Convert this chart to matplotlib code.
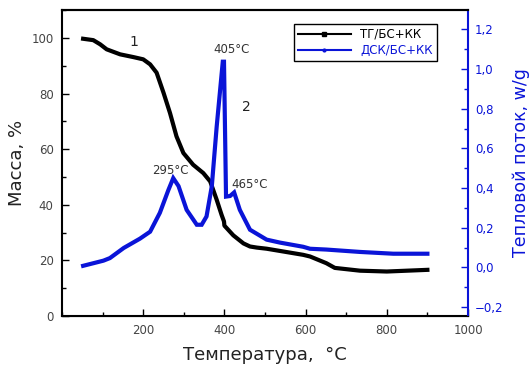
import matplotlib
matplotlib.use("Agg")
import matplotlib.pyplot as plt
from matplotlib.lines import Line2D
from matplotlib.ticker import MultipleLocator

# ТГ кривая (масса, %)
tg_t = [52, 77, 94, 110, 143, 176, 200, 217, 233, 250, 266, 282, 299, 323, 348, 365,
        381, 393, 399, 400, 422, 447, 463, 480, 504, 545, 594, 611, 651, 672, 734, 800, 900]
tg_m = [99.7, 99.2, 97.7, 95.9, 94.1, 93.1, 92.3, 90.5, 87.5, 80.3, 73.0, 64.6, 58.6, 54.4,
        51.4, 48.4, 41.8, 36.4, 34.0, 32.5, 29.0, 26.1, 25.0, 24.6, 24.2, 23.2, 22.0, 21.4,
        19.0, 17.3, 16.3, 16.0, 16.6]

# ДСК кривая (тепловой поток, w/g)
dsc_t = [52, 102, 118, 152, 192, 217, 241, 262, 274, 287, 307, 332, 344, 356, 369, 381,
         396, 399, 404, 414, 424, 438, 463, 504, 537, 594, 611, 651, 734, 816, 900]
dsc_q = [0.008, 0.034, 0.047, 0.098, 0.145, 0.18, 0.275, 0.39, 0.45, 0.41, 0.29, 0.215,
         0.215, 0.257, 0.41, 0.71, 1.037, 1.037, 0.357, 0.36, 0.378, 0.29, 0.19, 0.14,
         0.125, 0.104, 0.094, 0.09, 0.078, 0.069, 0.069]

blue = "#0a14d8"
plt.rcParams['font.family'] = ['DejaVu Sans']

fig = plt.figure(figsize=(5.3, 3.69), dpi=100)
ax = fig.add_axes([0.117, 0.1436, 0.766, 0.829])
ax2 = ax.twinx()

ax.plot(tg_t, tg_m, color="black", lw=3.0, solid_joinstyle="round")
ax2.plot(dsc_t, dsc_q, color=blue, lw=3.0, solid_joinstyle="miter")

ax.set_xlim(0, 1000)
ax.set_ylim(0, 110)
ax2.set_ylim(-0.245, 1.297)

ax.xaxis.set_major_locator(MultipleLocator(200))
ax.xaxis.set_minor_locator(MultipleLocator(100))
ax.yaxis.set_major_locator(MultipleLocator(20))
ax.yaxis.set_minor_locator(MultipleLocator(10))
ax2.yaxis.set_major_locator(MultipleLocator(0.2))
ax2.yaxis.set_minor_locator(MultipleLocator(0.1))
ax.set_xticks([200, 400, 600, 800, 1000])

ax.tick_params(which="both", direction="in", labelsize=8.5, colors="black",
               labelcolor="#444444")
ax.tick_params(which="major", length=5, width=1, pad=6)
ax.tick_params(which="minor", length=3, width=1)
ax2.tick_params(axis="y", which="both", direction="in", labelsize=8.5, colors=blue)
ax2.tick_params(axis="y", which="major", length=5, width=1, pad=5)
ax2.tick_params(axis="y", which="minor", length=3, width=1)
ax2.yaxis.set_major_formatter(lambda v, p: f"{v:.1f}".replace(".", ",").replace("-", "\u2212"))

for s in ["left", "bottom", "top"]:
    ax.spines[s].set_linewidth(1.5)
ax2.spines["right"].set_color(blue)
ax2.spines["right"].set_linewidth(1.5)
ax2.spines["top"].set_linewidth(1.5)
ax2.spines["left"].set_visible(False)
ax.spines["right"].set_visible(False)

ax.set_xlabel("Температура,  °С", fontsize=13, color="#222222", labelpad=6)
ax.set_ylabel("Масса, %", fontsize=13, color="#222222", labelpad=4)
ax2.set_ylabel("Тепловой поток, w/g", fontsize=12.5, color=blue, labelpad=6)

# подписи
ax.text(176, 98.5, "1", fontsize=10, ha="center", va="center", color="#222222")
ax.text(455, 75, "2", fontsize=10, ha="center", va="center", color="#222222")
ax.text(418, 96, "405°C", fontsize=8.5, ha="center", va="center", color="#333333")
ax.text(266, 52.4, "295°C", fontsize=8.5, ha="center", va="center", color="#333333")
ax.text(463, 47.2, "465°C", fontsize=8.5, ha="center", va="center", color="#333333")

handles = [Line2D([], [], color="black", lw=1.5, marker="s", markersize=2.5),
           Line2D([], [], color=blue, lw=1.5, marker="o", markersize=2)]
leg = ax2.legend(handles, ["ТГ/БС+КК", "ДСК/БС+КК"], loc="upper right",
                 bbox_to_anchor=(0.938, 0.975), fontsize=8.5, handlelength=4.5,
                 fancybox=False, edgecolor="black", framealpha=1,
                 borderpad=0.35, labelspacing=0.3)
leg.get_frame().set_linewidth(1)
leg.get_texts()[0].set_color("black")
leg.get_texts()[1].set_color(blue)

fig.savefig("out.png", dpi=100)
